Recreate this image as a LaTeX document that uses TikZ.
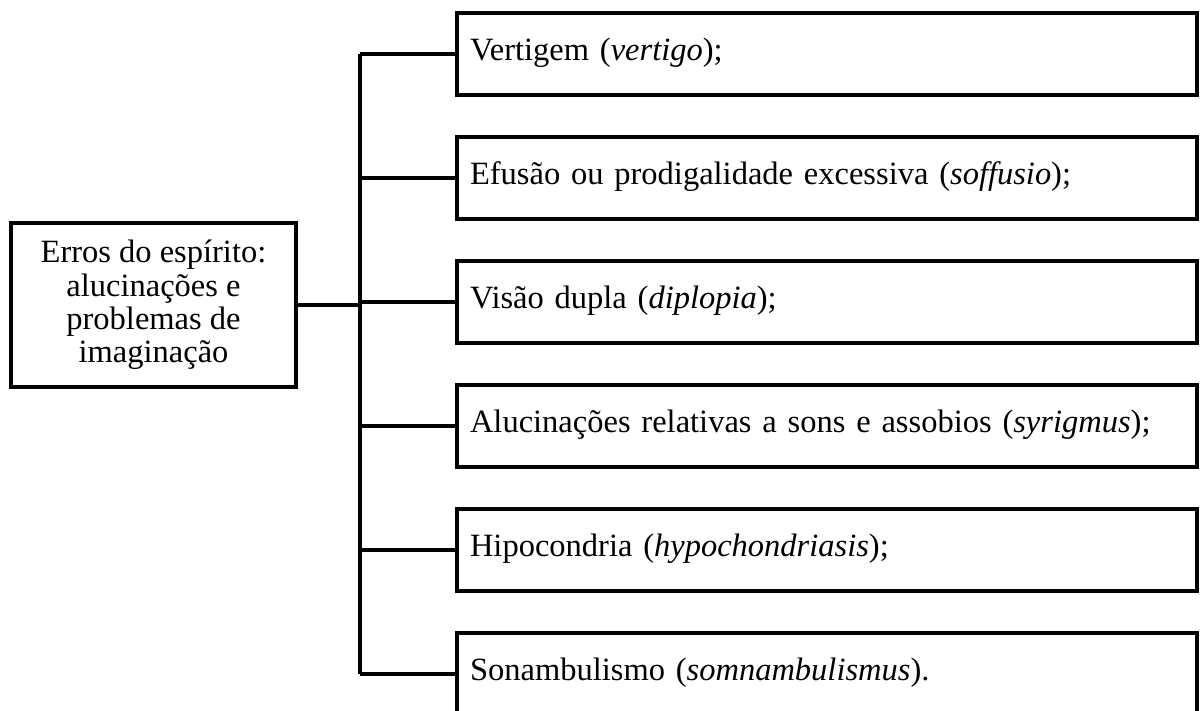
\documentclass[tikz,border=0pt]{standalone}
\usepackage{fontspec}
\setmainfont{Liberation Serif}
\begin{document}
\begin{tikzpicture}[x=1pt,y=-1pt,
  box/.style={draw=black, line width=4.5pt, rectangle, inner sep=0pt},
  itembox/.style={box, minimum width=740pt, minimum height=82pt,
    text width=714pt, align=left, text height=23pt, text depth=10pt},
  conn/.style={draw=black, line width=4.5pt},
  font=\fontsize{32.5pt}{33.4pt}\selectfont]
\clip (0,0) rectangle (1200,711);
\useasboundingbox (0,0) rectangle (1200,711);
\node[box, minimum width=285pt, minimum height=164pt, align=center] (root) at (153.5,305)
  {Erros do espírito:\\alucinações e\\problemas de\\imaginação};
\node[itembox] (b1) at (827,54) {Vertigem (\textit{vertigo});};
\node[itembox] (b2) at (827,178) {Efusão ou prodigalidade excessiva (\textit{soffusio});};
\node[itembox] (b3) at (827,302) {Visão dupla (\textit{diplopia});};
\node[itembox] (b4) at (827,426) {Alucinações relativas a sons e assobios (\textit{syrigmus});};
\node[itembox] (b5) at (827,550) {Hipocondria (\textit{hypochondriasis});};
\node[itembox] (b6) at (827,674) {Sonambulismo (\textit{somnambulismus}).};
\coordinate (bustop) at (360,54);
\coordinate (busbot) at (360,674);
\draw[conn] (bustop) -- (busbot);
\draw[conn] (root.east) -- (root.east -| bustop);
\foreach \b in {b1,b2,b3,b4,b5,b6} {
  \draw[conn] (\b.west -| bustop) -- (\b.west);
}
\end{tikzpicture}
\end{document}
